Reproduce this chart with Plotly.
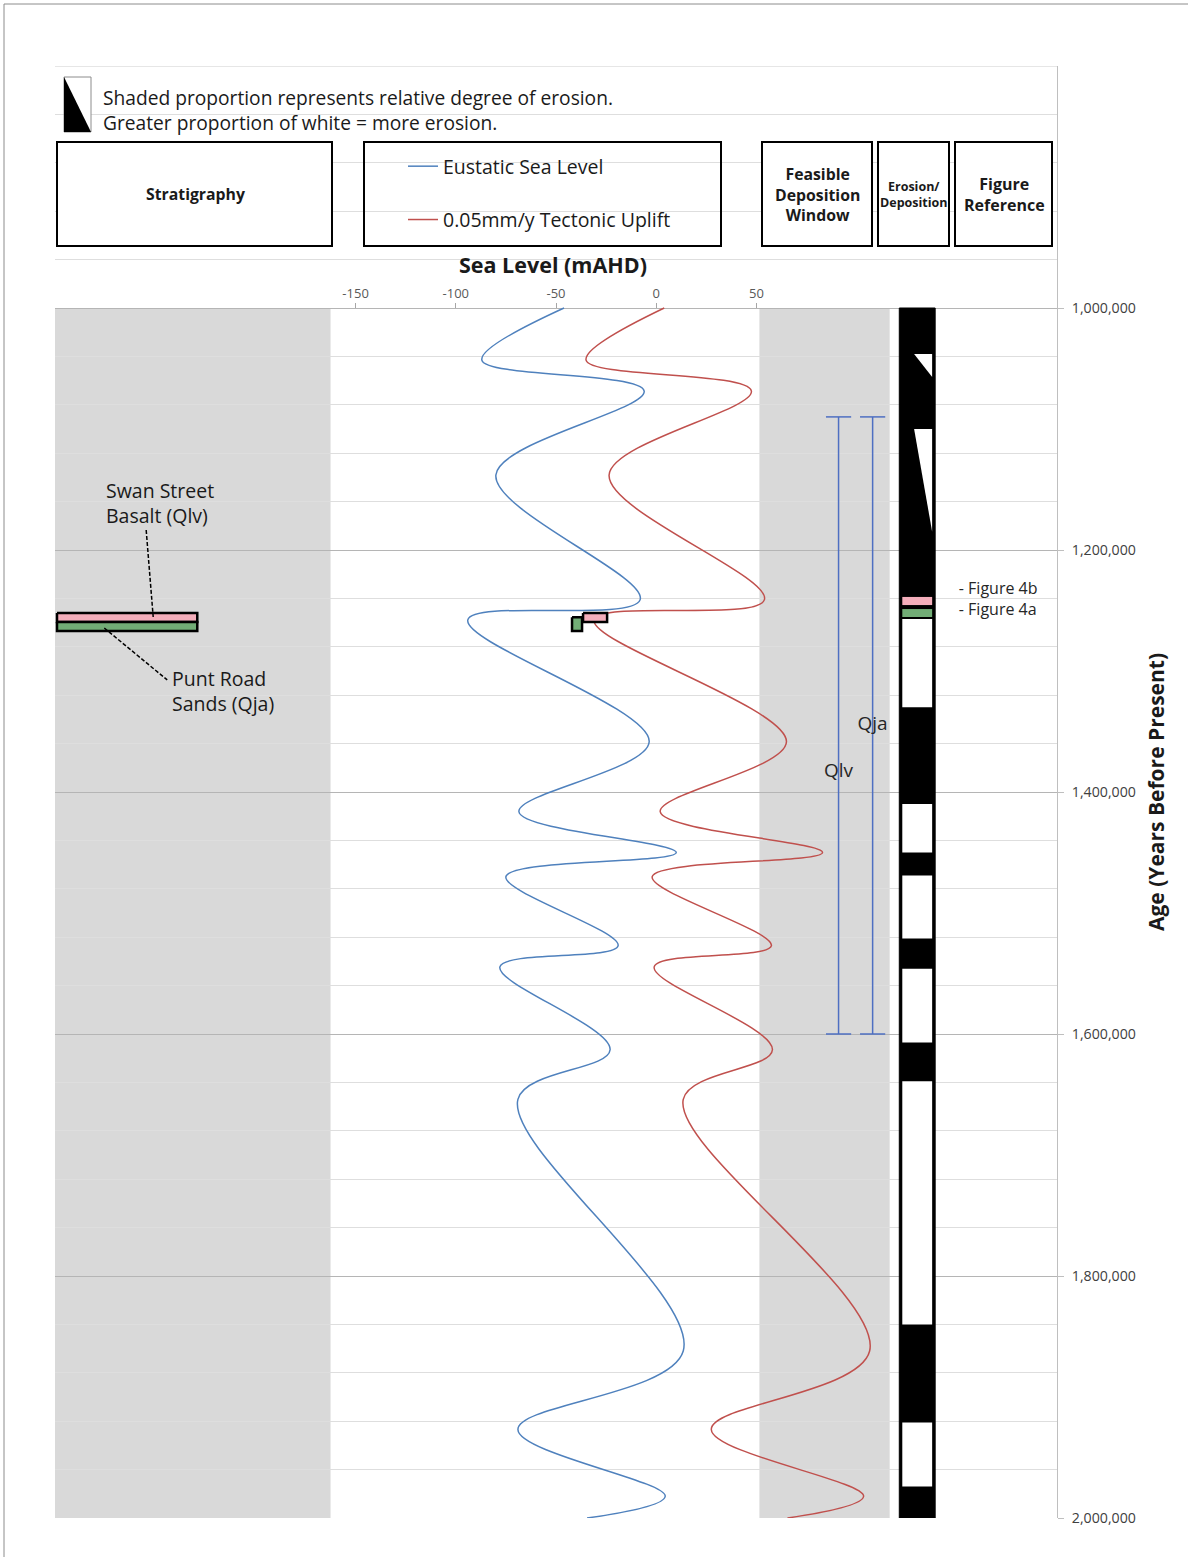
import plotly.graph_objects as go

# ---------------------------------------------------------------------------
# Sea-level curves (turning points), ages in years before present, levels in m AHD
eustatic_age = [1000000, 1043000, 1068600, 1138000, 1241000, 1257700, 1358500,
                1416300, 1450000, 1470000, 1527000, 1544500, 1613000, 1654000,
                1862000, 1926800, 1982000, 2000000]
eustatic_level = [-46, -87, -6, -80, -8, -94, -3.5, -68.5, 10, -75, -19, -78,
                  -23, -69, 13.5, -69, 4.5, -34.5]

uplift_age = [1000000, 1043000, 1068600, 1138000, 1241000, 1257700, 1358500,
              1416300, 1450000, 1470000, 1527000, 1544500, 1613000, 1654000,
              1862000, 1926800, 1982000, 2000000]
uplift_level = [4, -35, 47.5, -23.5, 54, -31, 65, 2, 83, -2, 57.5, -1,
                58, 13.5, 106.5, 27.5, 103.5, 65.5]

# Shaded bands: stratigraphy column and feasible deposition window (m AHD)
band_x0 = [-300, 51.5]
band_x1 = [-162.5, 116.5]
band_top = [1000000, 1000000]
band_bottom = [2000000, 2000000]

# Stratigraphic units
unit_names = ["Swan Street<br>Basalt (Qlv)", "Punt Road<br>Sands (Qja)"]
unit_top = [1252000, 1259500]
unit_bottom = [1259500, 1267000]
unit_x0 = [-299, -299]
unit_x1 = [-229, -229]

# Unit samples plotted against the sea-level curves
sample_x0 = [-36.5, -42]
sample_x1 = [-24.5, -37]
sample_top = [1252000, 1255500]
sample_bottom = [1259500, 1267000]

# Possible age ranges of the units
range_labels = ["Qlv", "Qja"]
range_level = [91, 108]
range_top = [1090000, 1090000]
range_bottom = [1600000, 1600000]
range_label_age = [1384000, 1345000]

# Erosion / deposition column: intervals of full erosion (white)
erosion_top = [1257000, 1410000, 1469000, 1546000, 1639000, 1921000]
erosion_bottom = [1330000, 1450000, 1521000, 1607000, 1840000, 1974000]
# partial erosion wedges
wedge_top = [1038000, 1100000]
wedge_bottom = [1057000, 1185000]

# Figure references
figure_labels = ["- Figure 4b", "- Figure 4a"]
figure_top = [1238800, 1248800]
figure_bottom = [1245500, 1255400]
figure_label_age = [1233000, 1250400]

y_ticks = [1000000, 1200000, 1400000, 1600000, 1800000, 2000000]
x_ticks = [-150, -100, -50, 0, 50]
x_tick_text = ["-150", "-100", "-50", "0", "50"]

# ---------------------------------------------------------------------------
FONT = "Open Sans, Noto Sans, sans-serif"
BLUE = "#4f81bd"
RED = "#c0504d"
PINK = "#f4aebb"
GREEN = "#72ad76"
GREY = "#d9d9d9"
RANGE_BLUE = "#4e6fc2"
TEXT = "#1a1a1a"

W, H = 1188, 1557
ML, MR, MT, MB = 55, 131, 66, 39
X_RANGE = [-300, 200]
Y_RANGE = [2000000, 800000]

# erosion column geometry (m AHD)
COL_X0, COL_X1 = 121.3, 139.2
IN_X0, IN_X1 = 122.8, 137.7
WEDGE_X0 = 128.7
FIGURE_LABEL_X = 151


def pxx(x):
    return (x - ML) / (W - ML - MR)


def pxy(y):
    return 1 - (y - MT) / (H - MT - MB)


def rect(x0, x1, y0, y1):
    return [x0, x1, x1, x0, x0], [y0, y0, y1, y1, y0]


fig = go.Figure()

# Sea-level curves
fig.add_trace(go.Scatter(
    x=eustatic_level, y=eustatic_age, mode="lines", name="Eustatic Sea Level",
    line=dict(color=BLUE, width=1.5, shape="spline", smoothing=1),
    legendgroup="a"))
fig.add_trace(go.Scatter(
    x=uplift_level, y=uplift_age, mode="lines", name="0.05mm/y Tectonic Uplift",
    line=dict(color=RED, width=1.5, shape="spline", smoothing=1),
    legendgroup="b"))

# Age ranges with end caps
for lab, lv, t, b, la in zip(range_labels, range_level, range_top, range_bottom, range_label_age):
    fig.add_trace(go.Scatter(
        x=[lv, lv], y=[t, b], mode="lines+markers", showlegend=False,
        line=dict(color=RANGE_BLUE, width=1.5),
        marker=dict(symbol="line-ew-open", size=18,
                    line=dict(color=RANGE_BLUE, width=1.5)),
        hoverinfo="skip"))
    fig.add_trace(go.Scatter(
        x=[lv], y=[la], mode="text", text=[lab], showlegend=False,
        textfont=dict(family=FONT, size=19, color="#262626"), hoverinfo="skip"))

# Erosion / deposition column
cx, cy = rect(COL_X0, COL_X1, 1000000, 2000000)
fig.add_trace(go.Scatter(x=cx, y=cy, fill="toself", fillcolor="black", mode="lines",
                         line=dict(color="black", width=1), showlegend=False,
                         hoverinfo="skip"))
for t, b in zip(erosion_top, erosion_bottom):
    ex, ey = rect(IN_X0, IN_X1, t, b)
    fig.add_trace(go.Scatter(x=ex, y=ey, fill="toself", fillcolor="white",
                             mode="lines", line=dict(width=0, color="white"),
                             showlegend=False, hoverinfo="skip"))
for t, b in zip(wedge_top, wedge_bottom):
    fig.add_trace(go.Scatter(x=[WEDGE_X0, IN_X1, IN_X1, WEDGE_X0], y=[t, t, b, t],
                             fill="toself", fillcolor="white", mode="lines",
                             line=dict(width=0, color="white"),
                             showlegend=False, hoverinfo="skip"))
for t, b, c in zip(figure_top, figure_bottom, [PINK, GREEN]):
    fx, fy = rect(IN_X0, IN_X1, t, b)
    fig.add_trace(go.Scatter(x=fx, y=fy, fill="toself", fillcolor=c, mode="lines",
                             line=dict(width=0, color=c),
                             showlegend=False, hoverinfo="skip"))
fig.add_trace(go.Scatter(
    x=[FIGURE_LABEL_X] * len(figure_labels), y=figure_label_age, mode="text",
    text=figure_labels, textposition="middle right", showlegend=False,
    textfont=dict(family=FONT, size=16, color="#262626"), hoverinfo="skip"))

# Stratigraphic units and curve samples
for x0, x1, t, b, c in zip(unit_x0, unit_x1, unit_top, unit_bottom, [PINK, GREEN]):
    ux, uy = rect(x0, x1, t, b)
    fig.add_trace(go.Scatter(x=ux, y=uy, fill="toself", fillcolor=c, mode="lines",
                             line=dict(color="black", width=2.5),
                             showlegend=False, hoverinfo="skip"))
for x0, x1, t, b, c in zip(sample_x0, sample_x1, sample_top, sample_bottom, [PINK, GREEN]):
    sx, sy = rect(x0, x1, t, b)
    fig.add_trace(go.Scatter(x=sx, y=sy, fill="toself", fillcolor=c, mode="lines",
                             line=dict(color="black", width=2.5),
                             showlegend=False, hoverinfo="skip"))

shapes = []
# grey bands (beneath gridlines)
for x0, x1, t, b in zip(band_x0, band_x1, band_top, band_bottom):
    shapes.append(dict(type="rect", xref="x", yref="y", x0=x0, x1=x1, y0=t, y1=b,
                       fillcolor=GREY, line=dict(width=0), layer="below"))

# top gridline of the header rows
shapes.append(dict(type="line", xref="paper", yref="y", x0=0, x1=1,
                   y0=Y_RANGE[1], y1=Y_RANGE[1], line=dict(color="#dedede", width=1.5),
                   layer="below"))

# leader lines to the unit labels
LEADER = dict(color="black", width=1.5, dash="4px,2px")
shapes.append(dict(type="line", xref="x", yref="y", x0=-254.5, y0=1183500,
                   x1=-251, y1=1255400, line=LEADER))
shapes.append(dict(type="line", xref="x", yref="y", x0=-275.4, y0=1264500,
                   x1=-244, y1=1307400, line=LEADER))

# header boxes
header_boxes = [(57, 332, False), (364, 721, True), (762, 872, False),
                (878, 949, False), (955, 1052, False)]
for x0, x1, clear in header_boxes:
    shapes.append(dict(type="rect", xref="paper", yref="paper",
                       x0=pxx(x0), x1=pxx(x1), y0=pxy(142), y1=pxy(246),
                       fillcolor="rgba(0,0,0,0)" if clear else "white",
                       line=dict(color="black", width=2), layer="above"))

# erosion key icon
shapes.append(dict(type="rect", xref="paper", yref="paper", x0=pxx(64), x1=pxx(91),
                   y0=pxy(77), y1=pxy(132), fillcolor="white",
                   line=dict(color="#8c8c8c", width=1), layer="above"))
shapes.append(dict(type="path", xref="paper", yref="paper",
                   path=f"M {pxx(64)},{pxy(77)} L {pxx(64)},{pxy(132)} L {pxx(91)},{pxy(132)} Z",
                   fillcolor="black", line=dict(width=0), layer="above"))

# outer frame
shapes.append(dict(type="line", xref="paper", yref="paper", x0=pxx(4), x1=pxx(1200),
                   y0=pxy(4), y1=pxy(4), line=dict(color="#8c8c8c", width=1)))
shapes.append(dict(type="line", xref="paper", yref="paper", x0=pxx(4), x1=pxx(4),
                   y0=pxy(4), y1=pxy(1570), line=dict(color="#8c8c8c", width=1)))

annotations = []


def note(text, x, y, size, bold=False, xanchor="center", align="center",
         xref="paper", yref="paper"):
    annotations.append(dict(
        text=f"<b>{text}</b>" if bold else text, x=x, y=y, xref=xref, yref=yref,
        xanchor=xanchor, yanchor="middle", align=align, showarrow=False,
        font=dict(family=FONT, size=size, color=TEXT)))


note("Shaded proportion represents relative degree of erosion.<br>"
     "Greater proportion of white = more erosion.", pxx(101), pxy(110), 19.2,
     xanchor="left", align="left")
note("Stratigraphy", pxx(195), pxy(194), 15.8, bold=True)
note("Feasible<br>Deposition<br>Window", pxx(817), pxy(194), 15.8, bold=True)
note("Erosion/<br>Deposition", pxx(914), pxy(194), 12.5, bold=True)
note("Figure<br>Reference", pxx(1004), pxy(194), 16, bold=True)
note("Sea Level (mAHD)", pxx(553), pxy(264), 21.5, bold=True)

# unit labels
note(unit_names[0], -275.5, 1161000, 19.5, xanchor="left", align="left", xref="x", yref="y")
note(unit_names[1], -242.5, 1316500, 19.5, xanchor="left", align="left", xref="x", yref="y")

x_axis_pos = (Y_RANGE[0] - y_ticks[0]) / (Y_RANGE[0] - Y_RANGE[1])

fig.update_layout(
    width=W, height=H,
    margin=dict(l=ML, r=MR, t=MT, b=MB),
    paper_bgcolor="white", plot_bgcolor="white",
    font=dict(family=FONT, color="#262626"),
    shapes=shapes, annotations=annotations,
    legend=dict(x=pxx(403), y=pxy(147), xanchor="left", yanchor="top",
                bgcolor="rgba(0,0,0,0)", font=dict(family=FONT, size=19.5, color=TEXT),
                traceorder="grouped", tracegroupgap=25, itemwidth=30),
    xaxis=dict(range=X_RANGE, tickvals=x_ticks, ticktext=x_tick_text, side="top",
               anchor="free", position=x_axis_pos, showgrid=False, zeroline=False,
               showline=False, ticks="outside", ticklen=5, tickcolor="#a6a6a6",
               tickfont=dict(family=FONT, size=13, color="#595959")),
    yaxis=dict(range=Y_RANGE, side="right", tickvals=y_ticks, tickformat=",d",
               showline=True, linecolor="#bfbfbf", linewidth=1,
               ticks="outside", ticklen=6, tickcolor="#bfbfbf", ticklabelstandoff=5,
               gridcolor="#b5b5b5", gridwidth=1, zeroline=False,
               minor=dict(dtick=40000, tick0=800000, showgrid=True,
                          gridcolor="#dedede", gridwidth=1),
               tickfont=dict(family=FONT, size=14.2, color="#404040"),
               title=dict(text="<b>Age (Years Before Present)</b>", standoff=14,
                          font=dict(family=FONT, size=21, color=TEXT))),
)

fig.write_html("out.html")
